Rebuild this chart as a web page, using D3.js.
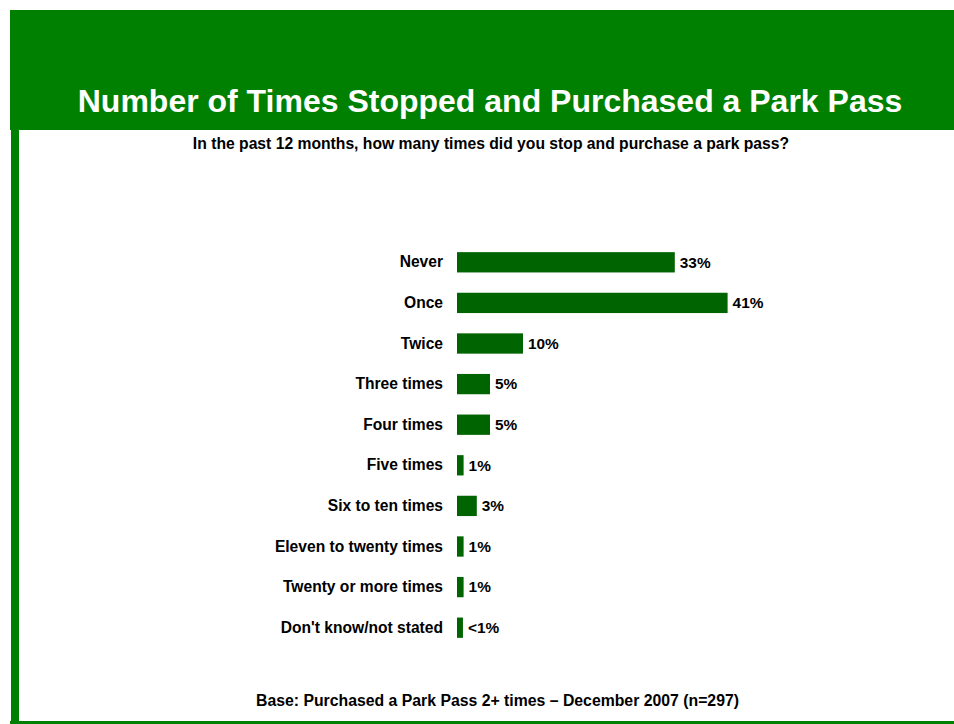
<!DOCTYPE html>
<html>
<head>
<meta charset="utf-8">
<script src="https://cdn.jsdelivr.net/npm/d3@7"></script>
<style>
  html, body { margin: 0; padding: 0; background: #fff; }
  svg { display: block; font-family: "Liberation Sans", Arial, Helvetica, sans-serif; }
</style>
</head>
<body>
<svg id="chart" width="954" height="724"></svg>
<script>
// Survey answers and their shares (percent)
const categories = [
  "Never", "Once", "Twice", "Three times", "Four times", "Five times",
  "Six to ten times", "Eleven to twenty times", "Twenty or more times",
  "Don't know/not stated"
];
const values = [33, 41, 10, 5, 5, 1, 3, 1, 1, 0.9];
const valueLabels = ["33%", "41%", "10%", "5%", "5%", "1%", "3%", "1%", "1%", "<1%"];

const titleText = "Number of Times Stopped and Purchased a Park Pass";
const questionText = "In the past 12 months, how many times did you stop and purchase a park pass?";
const baseText = "Base: Purchased a Park Pass 2+ times \u2013 December 2007 (n=297)";

const svg = d3.select("#chart");
const W = 954, H = 724;

// Frame: green header block, left rule and bottom rule
svg.append("rect").attr("x", 10).attr("y", 10).attr("width", W - 10).attr("height", 120).attr("fill", "#008000");
svg.append("rect").attr("x", 11).attr("y", 130).attr("width", 8).attr("height", 592).attr("fill", "#008000");
svg.append("rect").attr("x", 10).attr("y", 721).attr("width", W - 10).attr("height", 3).attr("fill", "#008000");

svg.append("text")
  .attr("x", 490).attr("y", 112)
  .attr("text-anchor", "middle")
  .attr("fill", "#fff")
  .attr("font-weight", "bold")
  .attr("font-size", 32)
  .text(titleText);

svg.append("text")
  .attr("x", 491).attr("y", 149)
  .attr("text-anchor", "middle")
  .attr("fill", "#000")
  .attr("font-weight", "bold")
  .attr("font-size", 15.7)
  .text(questionText);

svg.append("text")
  .attr("x", 497.5).attr("y", 706)
  .attr("text-anchor", "middle")
  .attr("fill", "#000")
  .attr("font-weight", "bold")
  .attr("font-size", 15.8)
  .text(baseText);

// Horizontal bar chart
const x = d3.scaleLinear().domain([0, 41]).range([457, 457 + 41 * 6.6]);
const y = d3.scaleBand().domain(categories).range([242, 648]).paddingInner(0.5).paddingOuter(0.25);

const rows = categories.map((c, i) => ({ c, v: values[i], label: valueLabels[i] }));

const g = svg.append("g");

g.selectAll("rect.bar").data(rows).join("rect")
  .attr("class", "bar")
  .attr("x", x(0))
  .attr("y", d => y(d.c))
  .attr("width", d => x(d.v) - x(0))
  .attr("height", y.bandwidth())
  .attr("fill", "#006400");

// Category labels via a left axis without lines
const axis = d3.axisLeft(y).tickSize(0).tickPadding(14);
const ax = svg.append("g").attr("transform", `translate(${x(0)},0)`).call(axis);
ax.select(".domain").remove();
ax.selectAll("text")
  .attr("font-family", "\"Liberation Sans\", Arial, Helvetica, sans-serif")
  .attr("font-size", 15.6)
  .attr("font-weight", "bold")
  .attr("fill", "#000");

g.selectAll("text.val").data(rows).join("text")
  .attr("class", "val")
  .attr("x", d => x(d.v) + 5)
  .attr("y", d => y(d.c) + y.bandwidth() / 2)
  .attr("dy", "0.35em")
  .attr("font-size", 15.4)
  .attr("font-weight", "bold")
  .attr("fill", "#000")
  .text(d => d.label);
</script>
</body>
</html>
